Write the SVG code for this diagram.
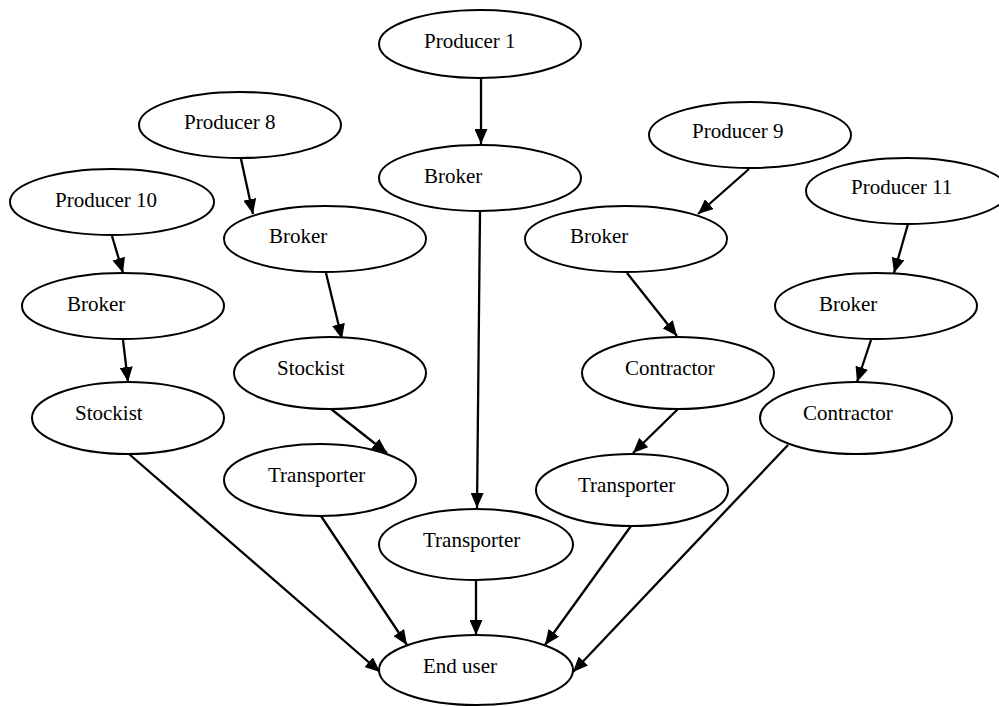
<svg xmlns="http://www.w3.org/2000/svg" width="999" height="706" viewBox="0 0 999 706">
<style>
.n ellipse{fill:#fff;stroke:#000;stroke-width:2}
.n text{font-family:"Liberation Serif","Times New Roman",serif;font-size:21px;fill:#000}
.e line{stroke:#000;stroke-width:2.3;marker-end:url(#ah)}
</style>
<defs>
<marker id="ah" markerUnits="userSpaceOnUse" markerWidth="15" markerHeight="13" refX="15" refY="6.5" orient="auto">
<path d="M0,0 L15,6.5 L0,13 z" fill="#000"/>
</marker>
</defs>
<rect width="999" height="706" fill="#fff"/>
<g id="edges" class="e">
<line x1="481" y1="78" x2="481" y2="144"/>
<line x1="241" y1="159" x2="253" y2="214"/>
<line x1="112" y1="236" x2="123" y2="273"/>
<line x1="326" y1="273" x2="342" y2="339"/>
<line x1="480" y1="212" x2="477" y2="508"/>
<line x1="749" y1="169" x2="698" y2="214"/>
<line x1="908" y1="224" x2="894" y2="273"/>
<line x1="627" y1="273" x2="677" y2="336"/>
<line x1="123" y1="340" x2="128" y2="382"/>
<line x1="331" y1="409" x2="387" y2="453"/>
<line x1="321" y1="516" x2="407" y2="645"/>
<line x1="129" y1="454" x2="380" y2="672"/>
<line x1="476" y1="580" x2="476" y2="635"/>
<line x1="871" y1="340" x2="857" y2="382"/>
<line x1="678" y1="409" x2="633" y2="453"/>
<line x1="631" y1="526" x2="545" y2="645"/>
<line x1="788" y1="445" x2="573" y2="672"/>
</g>
<g id="producer1" class="n"><ellipse cx="480" cy="44" rx="101" ry="34"/><text x="424" y="48">Producer 1</text></g>
<g id="brokerC" class="n"><ellipse cx="480" cy="178" rx="101" ry="33"/><text x="424" y="183">Broker</text></g>
<g id="producer8" class="n"><ellipse cx="240" cy="125" rx="101" ry="33"/><text x="184" y="129">Producer 8</text></g>
<g id="broker8" class="n"><ellipse cx="325" cy="239" rx="101" ry="33"/><text x="269" y="243">Broker</text></g>
<g id="producer10" class="n"><ellipse cx="112" cy="202" rx="102" ry="33"/><text x="55" y="207">Producer 10</text></g>
<g id="broker10" class="n"><ellipse cx="123" cy="306" rx="101" ry="33"/><text x="67" y="311">Broker</text></g>
<g id="producer9" class="n"><ellipse cx="750" cy="135" rx="101" ry="33"/><text x="692" y="138">Producer 9</text></g>
<g id="broker9" class="n"><ellipse cx="626" cy="239" rx="101" ry="33"/><text x="570" y="243">Broker</text></g>
<g id="producer11" class="n"><ellipse cx="907" cy="191" rx="101" ry="33"/><text x="851" y="194">Producer 11</text></g>
<g id="broker11" class="n"><ellipse cx="876" cy="306" rx="101" ry="33"/><text x="819" y="311">Broker</text></g>
<g id="stockist10" class="n"><ellipse cx="128" cy="418" rx="96" ry="36"/><text x="75" y="420">Stockist</text></g>
<g id="stockist8" class="n"><ellipse cx="330" cy="373" rx="96" ry="36"/><text x="277" y="375">Stockist</text></g>
<g id="transporter8" class="n"><ellipse cx="320" cy="480" rx="96" ry="36"/><text x="268" y="482">Transporter</text></g>
<g id="transporterC" class="n"><ellipse cx="476" cy="544.5" rx="97" ry="35.5"/><text x="423" y="547">Transporter</text></g>
<g id="enduser" class="n"><ellipse cx="476" cy="670" rx="97" ry="35"/><text x="423" y="673">End user</text></g>
<g id="contractor9" class="n"><ellipse cx="678" cy="373" rx="96" ry="36"/><text x="625" y="375">Contractor</text></g>
<g id="contractor11" class="n"><ellipse cx="856" cy="418" rx="96" ry="36"/><text x="803" y="420">Contractor</text></g>
<g id="transporter9" class="n"><ellipse cx="632" cy="490" rx="96" ry="36"/><text x="578" y="492">Transporter</text></g>
</svg>
